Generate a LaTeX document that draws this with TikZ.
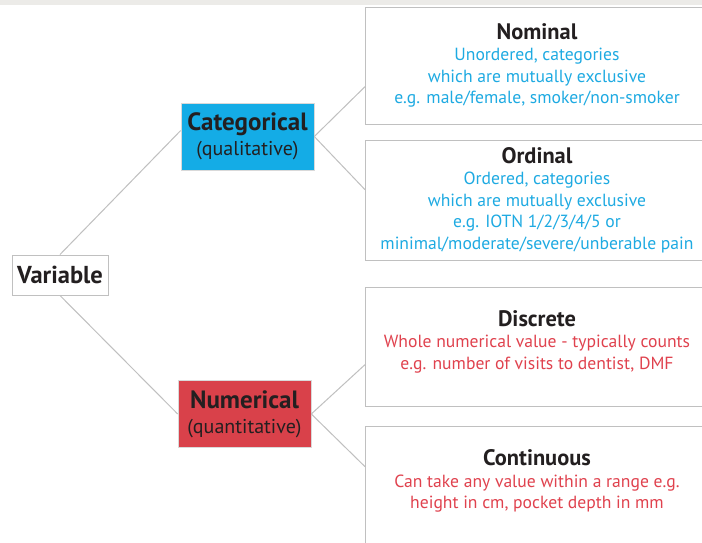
\documentclass[tikz,border=0pt]{standalone}
\usepackage{fontspec}
\setmainfont{PT Sans}
\usetikzlibrary{calc}
\definecolor{catfill}{RGB}{20,172,230}
\definecolor{cattext}{RGB}{30,170,226}
\definecolor{numfill}{RGB}{217,65,74}
\definecolor{numtext}{RGB}{224,66,78}
\definecolor{ink}{RGB}{35,31,32}
\definecolor{boxgray}{RGB}{192,192,192}
\definecolor{topgray}{RGB}{236,235,232}
\newcommand\leafhead[1]{\textcolor{ink}{\fontsize{22.4}{21.5}\selectfont\bfseries #1}}

\begin{document}
\begin{tikzpicture}[x=1pt,y=-1pt,
  every node/.style={inner sep=0pt},
  txt/.style={align=center,font=\fontsize{17.6}{21.5}\selectfont},
  leafbox/.style={draw=boxgray,line width=1.3pt,fill=white,minimum width=345pt,anchor=north west},
  midbox/.style={draw=boxgray!60,line width=0.6pt,minimum width=133pt,minimum height=67pt,
    align=center,text=ink,font=\fontsize{20}{25}\selectfont},
  link/.style={draw=boxgray,line width=1pt}]
  \useasboundingbox (0,0) rectangle (702,542);
  \clip (0,0) rectangle (702,542);
  \fill[white] (0,0) rectangle (702,542);
  \fill[topgray] (0,0) rectangle (702,5);

  % root
  \node[draw=boxgray,line width=1pt,fill=white,minimum width=96pt,minimum height=40pt,
    text=ink,font=\fontsize{24.5}{24}\selectfont\bfseries] (var) at (60,275) {Variable};

  % middle level
  \node[midbox,fill=catfill] (cat) at (247.5,136.5)
    {{\fontsize{25}{25}\selectfont\bfseries Categorical}\\(qualitative)};
  \node[midbox,fill=numfill] (num) at (244.5,414)
    {{\fontsize{25}{25}\selectfont\bfseries Numerical}\\(quantitative)};

  % leaf boxes
  \node[leafbox,minimum height=117pt] (nom) at (365,7) {};
  \node[leafbox,minimum height=120pt] (ord) at (365,140) {};
  \node[leafbox,minimum height=119pt] (dis) at (365,287) {};
  \node[leafbox,minimum height=130pt] (con) at (365,426) {};

  \node[txt,text=cattext] (nomtxt) at (537,65.5)
    {\leafhead{Nominal}\\Unordered, categories\\which are mutually exclusive\\e.g. male/female, smoker/non-smoker};
  \node[txt,text=cattext] (ordtxt) at (537,200)
    {\leafhead{Ordinal}\\Ordered, categories\\which are mutually exclusive\\e.g. IOTN 1/2/3/4/5 or\\minimal/moderate/severe/unberable pain};
  \node[txt,text=numtext] (distxt) at (537,341.5)
    {\leafhead{Discrete}\\Whole numerical value - typically counts\\e.g. number of visits to dentist, DMF};
  \node[txt,text=numtext] (contxt) at (537,481)
    {\leafhead{Continuous}\\Can take any value within a range e.g.\\height in cm, pocket depth in mm};

  % connectors
  \draw[link] (var.north) -- ([yshift=6pt]cat.west);
  \draw[link] (var.south) -- (num.west);
  \draw[link] (cat.east) -- ([yshift=-20.5pt]nom.west);
  \draw[link] (cat.east) -- ([yshift=11pt]ord.west);
  \draw[link] (num.east) -- ([yshift=-17.5pt]dis.west);
  \draw[link] (num.east) -- ([yshift=25pt]con.west);
\end{tikzpicture}
\end{document}
